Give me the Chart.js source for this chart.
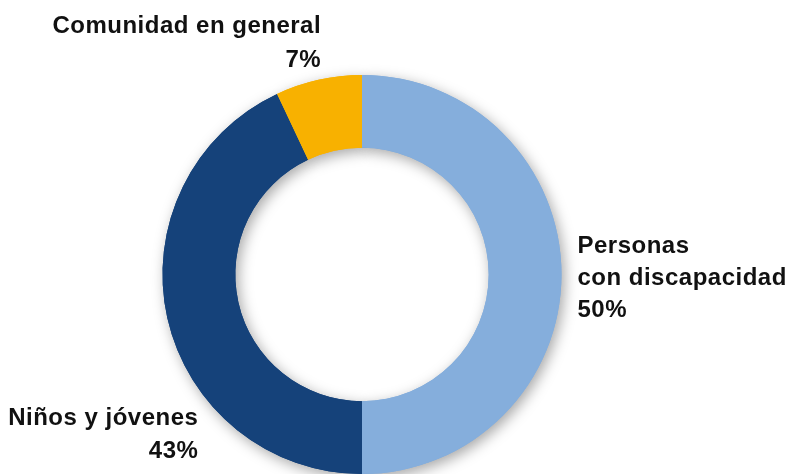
<!DOCTYPE html>
<html>
<head>
<meta charset="utf-8">
<script src="https://cdn.jsdelivr.net/npm/chart.js@4/dist/chart.umd.min.js"></script>
<style>
html,body{margin:0;padding:0;background:#fff;overflow:hidden;}
#wrap{position:relative;width:795px;height:474px;}
</style>
</head>
<body>
<div id="wrap"><canvas id="c" width="795" height="474"></canvas></div>
<script>
const categories = ["Personas con discapacidad", "Niños y jóvenes", "Comunidad en general"];
const values = [50, 43, 7];
const labelLines = [["Personas", "con discapacidad", "50%"], ["Niños y jóvenes", "43%"], ["Comunidad en general", "7%"]];
const colors = ["#85AEDC", "#15427A", "#F8B100"];

const shadowPlugin = {
  id: 'shadow',
  beforeDatasetsDraw(chart) {
    const ctx = chart.ctx;
    const meta = chart.getDatasetMeta(0);
    ctx.save();
    ctx.shadowColor = 'rgba(0,0,0,0.35)';
    ctx.shadowBlur = 14;
    ctx.shadowOffsetX = 3;
    ctx.shadowOffsetY = 4;
    meta.data.forEach(a => a.draw(ctx));
    ctx.restore();
  }
};

const labelPlugin = {
  id: 'labels',
  afterDatasetsDraw(chart) {
    const ctx = chart.ctx;
    const arc = chart.getDatasetMeta(0).data[0];
    const cx = arc.x, cy = arc.y, r = arc.outerRadius;
    ctx.save();
    ctx.fillStyle = '#111';
    ctx.font = 'bold 24px "Liberation Sans", Arial, sans-serif';
    try { ctx.letterSpacing = '0.5px'; } catch (e) {}
    ctx.textBaseline = 'alphabetic';
    // Personas con discapacidad
    ctx.textAlign = 'left';
    const x0 = cx + r * 1.08;
    labelLines[0].forEach((t, i) => ctx.fillText(t, x0, cy - 22 + i * 32));
    // Niños y jóvenes
    ctx.textAlign = 'right';
    const x1 = cx - r * 0.82;
    labelLines[1].forEach((t, i) => ctx.fillText(t, x1, cy + 150 + i * 33));
    // Comunidad en general
    const x2 = cx - r * 0.205;
    labelLines[2].forEach((t, i) => ctx.fillText(t, x2, cy - 242 + i * 34));
    ctx.restore();
  }
};

new Chart(document.getElementById('c'), {
  type: 'doughnut',
  data: {
    labels: categories,
    datasets: [{
      data: values,
      backgroundColor: colors,
      borderWidth: 0,
      hoverOffset: 0
    }]
  },
  options: {
    responsive: false,
    animation: false,
    cutout: '63.5%',
    layout: { padding: { left: 162, right: 233, top: 75, bottom: 0 } },
    plugins: { legend: { display: false }, tooltip: { enabled: false } },
    events: []
  },
  plugins: [shadowPlugin, labelPlugin]
});
</script>
</body>
</html>
